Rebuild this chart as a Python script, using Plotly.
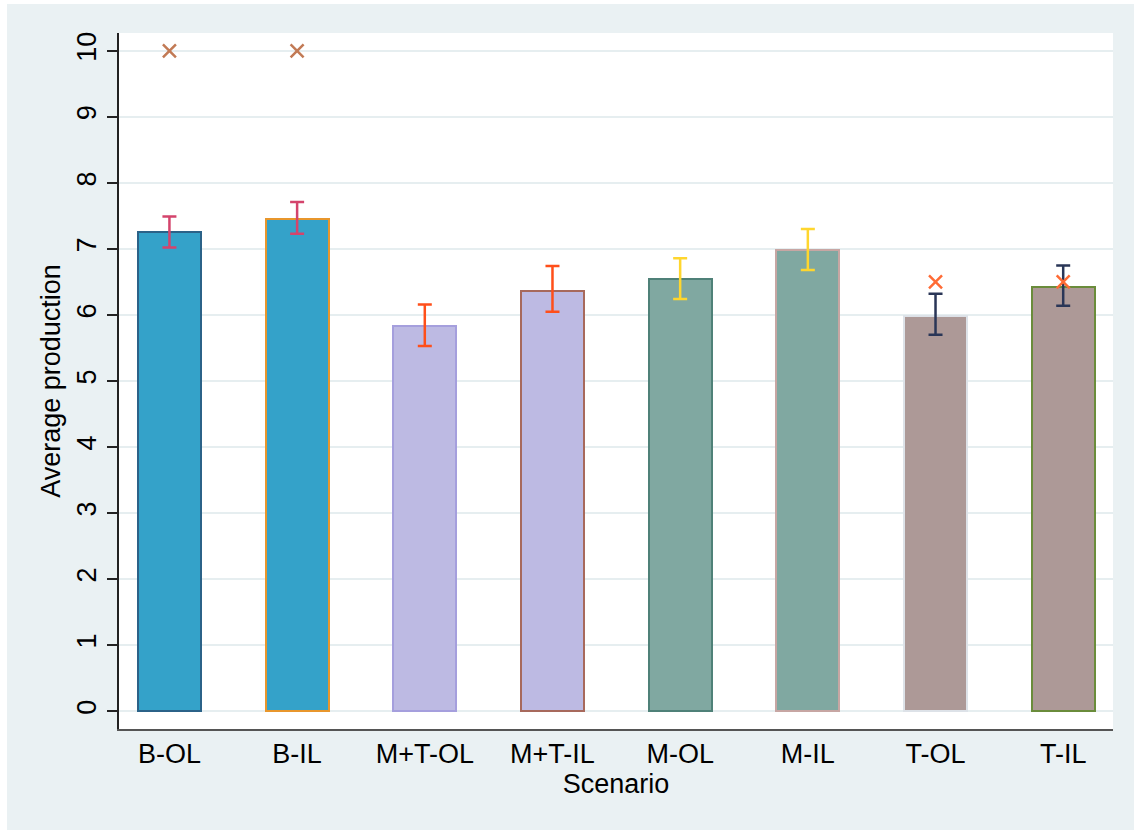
import plotly.graph_objects as go

# Average production per scenario with 95% confidence limits
scenarios = ["B-OL", "B-IL", "M+T-OL", "M+T-IL", "M-OL", "M-IL", "T-OL", "T-IL"]
means = [7.25, 7.45, 5.83, 6.37, 6.54, 6.98, 5.98, 6.43]
ci_high = [7.49, 7.71, 6.16, 6.74, 6.86, 7.30, 6.32, 6.75]
ci_low = [7.02, 7.23, 5.53, 6.05, 6.24, 6.68, 5.70, 6.14]

# Reference points shown as crosses
cross_b_scen = ["B-OL", "B-IL"]
cross_b_vals = [10, 10]
cross_t_scen = ["T-OL", "T-IL"]
cross_t_vals = [6.5, 6.5]

y_ticks = list(range(0, 11))

fill_colors = ["#34a2c9", "#34a2c9", "#bdbae3", "#bdbae3",
               "#80a8a1", "#80a8a1", "#ad9997", "#ad9997"]
edge_colors = ["#2b6288", "#e8962c", "#a59fdd", "#a7695c",
               "#4f8178", "#c7a6a3", "#dde2e8", "#6a8c3b"]
err_colors = ["#d4446c", "#d4446c", "#ff4f1a", "#ff4f1a",
              "#ffd62e", "#ffd62e", "#2a3657", "#2a3657"]

FONT = "Liberation Sans, Arial, sans-serif"
FS = 27
BG = "#eaf1f3"

fig = go.Figure()

for i, s in enumerate(scenarios):
    fig.add_trace(go.Bar(
        x=[s], y=[means[i]], width=0.493,
        marker=dict(color=fill_colors[i],
                    line=dict(color=edge_colors[i], width=2)),
        error_y=dict(type="data", symmetric=False,
                     array=[ci_high[i] - means[i]],
                     arrayminus=[means[i] - ci_low[i]],
                     color=err_colors[i], thickness=2.5, width=7),
        showlegend=False, hoverinfo="skip",
    ))

fig.add_trace(go.Scatter(
    x=cross_b_scen, y=cross_b_vals, mode="markers",
    marker=dict(symbol="x-thin", size=13,
                line=dict(color="#c27a55", width=2.5)),
    showlegend=False, hoverinfo="skip",
))
fig.add_trace(go.Scatter(
    x=cross_t_scen, y=cross_t_vals, mode="markers",
    marker=dict(symbol="x-thin", size=13,
                line=dict(color="#ff6b35", width=2.5)),
    showlegend=False, hoverinfo="skip",
))

# thin white strips around the outer grey region
plot_w, plot_h = 994, 696
fig.add_shape(type="rect", xref="paper", yref="paper", layer="below",
              x0=-119 / plot_w, x1=(7 - 119) / plot_w, y0=-2, y1=2,
              fillcolor="white", line_width=0)
fig.add_shape(type="rect", xref="paper", yref="paper", layer="below",
              x0=-1, x1=2, y0=1 + 29 / plot_h, y1=1 + 40 / plot_h,
              fillcolor="white", line_width=0)

fig.update_layout(
    width=1134, height=830,
    margin=dict(l=119, r=21, t=33, b=101, pad=0),
    paper_bgcolor=BG, plot_bgcolor="white",
    font=dict(family=FONT, size=FS, color="black"),
    bargap=0,
    xaxis=dict(
        type="category", categoryorder="array", categoryarray=scenarios,
        range=[-0.395, 7.39],
        showline=True, linecolor="#555555", linewidth=2,
        ticks="", showgrid=False, zeroline=False,
        tickfont=dict(size=FS),
        title=dict(text="Scenario", font=dict(size=FS), standoff=0),
    ),
    yaxis=dict(
        range=[-0.27, 10.27], tickvals=y_ticks,
        showline=True, linecolor="#222222", linewidth=1.5,
        ticks="outside", ticklen=10, tickwidth=1.5, tickcolor="#222222",
        tickangle=-90, tickfont=dict(size=FS),
        showgrid=True, gridcolor="#e6eef0", gridwidth=2,
        zeroline=False,
        title=dict(text="Average production", font=dict(size=FS), standoff=4),
    ),
)

fig.write_html("out.html")
